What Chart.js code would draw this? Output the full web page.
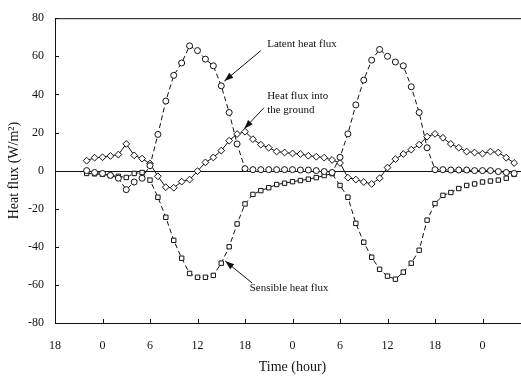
<!DOCTYPE html>
<html><head><meta charset="utf-8">
<script src="https://cdn.jsdelivr.net/npm/chart.js@4/dist/chart.umd.min.js"></script>
<style>
html,body{margin:0;padding:0;background:#fff;overflow:hidden;width:521px;height:376px}
#wrap{width:546px;height:376px;position:relative}
canvas{display:block}
</style>
</head><body><div id="wrap"><canvas id="c" width="546" height="376"></canvas></div>
<script>
// hours counted from 18:00 of the first evening
const hours = [4,5,6,7,8,9,10,11,12,13,14,15,16,17,18,19,20,21,22,23,24,25,26,27,28,29,30,31,32,33,34,35,36,37,38,39,40,41,42,43,44,45,46,47,48,49,50,51,52,53,54,55,56,57,58];
const latentHeatFlux = [0,-1,-1.5,-2.5,-4,-10,-6,-4,2.6,19,36.5,50,56.5,65.5,63,58.5,55,44.5,30.5,14,1,0.5,0.5,0.5,0.5,0.5,0.5,0.3,0.3,0,-0.5,-1,7,19.3,34.5,47.5,58,63.6,60,57,55,44,30.5,12,0.5,0.5,0.3,0.3,0.3,0,0,0,-0.5,-1,-1.5];
const groundHeatFlux = [5.2,6.8,7,7.7,8.4,14,8,6.3,3.7,-3,-8.7,-9,-5.8,-4.7,-0.3,4.3,6.9,10.5,15.7,19.2,20.4,16.5,13.6,12,10,9.5,9,8.7,7.8,7.3,6.8,5.6,4,-3.7,-4.7,-6,-7,-4,1.6,6,8.7,11,13.6,17.8,19.3,17.2,14,12,10,9.5,8.9,10,9.5,6.8,4];
const sensibleHeatFlux = [-1.5,-1.7,-2,-2.6,-3,-3.6,-1.5,-1,-5,-14,-24.5,-36.6,-46,-54,-56,-56,-55,-48.6,-40,-28,-17.5,-12.5,-10.5,-9,-7.3,-6.6,-5.8,-5.2,-4.5,-3.7,-2.6,-1.6,-7.8,-14,-27.7,-37.6,-45.5,-51.8,-55.4,-57,-53.3,-48.6,-41.8,-26,-17.3,-13,-11.5,-9.4,-7.8,-7,-6,-5.5,-5,-4,-2];
const xTickHours = [0,6,12,18,24,30,36,42,48,54,60];
const xTickLabels = ['18','0','6','12','18','0','6','12','18','0',''];
const yTickValues = [-80,-60,-40,-20,0,20,40,60,80];
const seriesNames = ['Latent heat flux','Heat flux into the ground','Sensible heat flux'];

const FONT = 'Liberation Serif';
const INK = '#111';

function pts(ys){ return hours.map((h,i)=>({x:h,y:ys[i]})); }

const notes = [
  {lines:['Latent heat flux'], tx:26.8, ty:66.4, from:[26.0,63.0], to:[21.4,47.0]},
  {lines:['Heat flux into','the ground'], tx:26.8, ty:39.0, from:[26.4,33.0], to:[23.9,22.0]},
  {lines:['Sensible heat flux'], tx:24.6, ty:-61.7, from:[24.9,-59.0], to:[21.5,-47.5]}
];

const decor = {
  id:'decor',
  beforeDatasetsDraw(chart){
    const {ctx, chartArea:a, scales:{x,y}} = chart;
    ctx.save();
    ctx.strokeStyle = INK; ctx.lineWidth = 1;
    const y0 = Math.round(y.getPixelForValue(0))+0.5;
    ctx.beginPath(); ctx.moveTo(a.left,y0); ctx.lineTo(a.right,y0); ctx.stroke();
    ctx.beginPath(); ctx.moveTo(a.left,a.top+0.5); ctx.lineTo(a.right,a.top+0.5); ctx.stroke();
    yTickValues.forEach(v=>{
      const py = Math.round(y.getPixelForValue(v))+0.5;
      ctx.beginPath(); ctx.moveTo(a.left,py); ctx.lineTo(a.left+4,py); ctx.stroke();
    });
    xTickHours.forEach(v=>{
      const px = Math.round(x.getPixelForValue(v))+0.5;
      ctx.beginPath(); ctx.moveTo(px,a.bottom); ctx.lineTo(px,a.bottom-4); ctx.stroke();
    });
    ctx.restore();
  },
  afterDatasetsDraw(chart){
    const {ctx, scales:{x,y}} = chart;
    ctx.save();
    ctx.fillStyle = INK; ctx.strokeStyle = INK; ctx.lineWidth = 1;
    ctx.font = '11px "'+FONT+'"';
    ctx.textBaseline = 'middle'; ctx.textAlign = 'left';
    notes.forEach(n=>{
      const tx = x.getPixelForValue(n.tx), ty = y.getPixelForValue(n.ty);
      n.lines.forEach((l,i)=>ctx.fillText(l, tx, ty + i*14));
      const x1 = x.getPixelForValue(n.from[0]), y1 = y.getPixelForValue(n.from[1]);
      const x2 = x.getPixelForValue(n.to[0]), y2 = y.getPixelForValue(n.to[1]);
      ctx.beginPath(); ctx.moveTo(x1,y1); ctx.lineTo(x2,y2); ctx.stroke();
      const ang = Math.atan2(y2-y1,x2-x1), L=9, W=3.2;
      ctx.beginPath();
      ctx.moveTo(x2,y2);
      ctx.lineTo(x2 - L*Math.cos(ang) + W*Math.sin(ang), y2 - L*Math.sin(ang) - W*Math.cos(ang));
      ctx.lineTo(x2 - L*Math.cos(ang) - W*Math.sin(ang), y2 - L*Math.sin(ang) + W*Math.cos(ang));
      ctx.closePath(); ctx.fill();
    });
    ctx.restore();
  }
};

const common = {borderColor:INK, backgroundColor:'#fff', pointBorderColor:INK, pointBackgroundColor:'#fff', borderWidth:1, pointBorderWidth:1, tension:0, fill:false};

new Chart(document.getElementById('c'), {
  type:'line',
  data:{datasets:[
    Object.assign({label:seriesNames[0], data:pts(latentHeatFlux), borderDash:[5,3], pointStyle:'circle', pointRadius:3}, common),
    Object.assign({label:seriesNames[1], data:pts(groundHeatFlux), pointStyle:'rectRot', pointRadius:3.4}, common),
    Object.assign({label:seriesNames[2], data:pts(sensibleHeatFlux), borderDash:[5,3], pointStyle:'rect', pointRadius:3.1}, common)
  ]},
  options:{
    responsive:false, animation:false, devicePixelRatio:1,
    layout:{padding:{top:17,right:0,left:0,bottom:0}},
    plugins:{legend:{display:false}, tooltip:{enabled:false}},
    scales:{
      x:{type:'linear', min:0, max:60,
        afterFit(s){ s.height = 53; },
        afterBuildTicks(s){ s.ticks = xTickHours.map(v=>({value:v})); },
        grid:{display:false, drawTicks:false},
        border:{display:true, color:INK, width:1},
        ticks:{autoSkip:false, maxRotation:0, padding:16, color:INK, font:{family:FONT, size:12},
          callback:(v,i)=>xTickLabels[i]},
        title:{display:true, text:'Time (hour)', color:INK, font:{family:FONT, size:14}, padding:{top:1,bottom:0}}
      },
      y:{min:-80, max:80,
        afterFit(s){ s.width = 55; },
        afterBuildTicks(s){ s.ticks = yTickValues.map(v=>({value:v})); },
        grid:{display:false, drawTicks:false},
        border:{display:true, color:INK, width:1},
        ticks:{padding:11, color:INK, font:{family:FONT, size:12}},
        title:{display:true, text:'Heat flux (W/m²)', color:INK, font:{family:FONT, size:14}, padding:{top:6,bottom:4}}
      }
    }
  },
  plugins:[decor]
});
</script>
</body></html>
